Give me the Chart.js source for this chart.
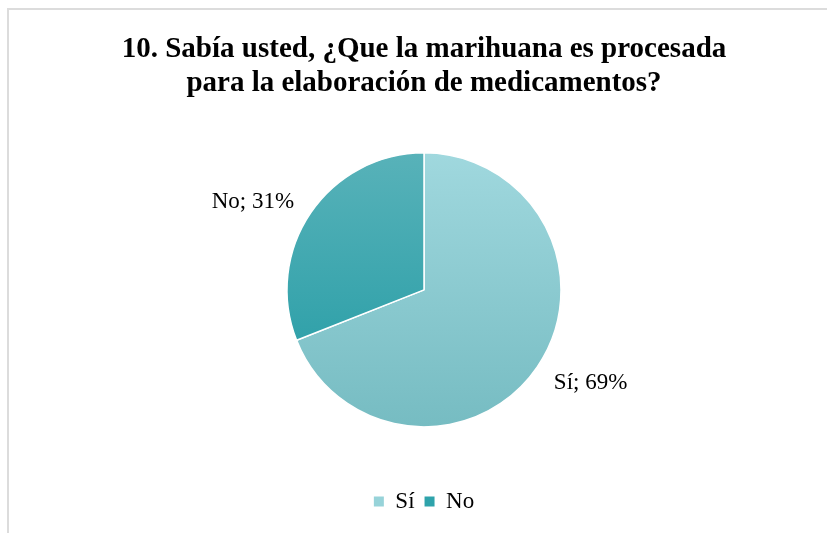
<!DOCTYPE html>
<html lang="es">
<head>
<meta charset="utf-8">
<title>Marihuana y medicamentos</title>
<script src="https://cdn.jsdelivr.net/npm/chart.js@4/dist/chart.umd.min.js"></script>
<style>
    html, body { margin: 0; padding: 0; background: #fff; overflow: hidden; }
    #frame {
        position: absolute;
        left: 7px;
        top: 8px;
        width: 900px;
        height: 600px;
        border: 2px solid #dcdcdc;
    }
    #chart { position: absolute; left: 0; top: 0; }
</style>
</head>
<body>
<div id="frame"></div>
<canvas id="chart" width="827" height="533"></canvas>
<script>
// Chart data
const categories = ['Sí', 'No'];
const percentages = [69, 31];
const titleLines = ['10. Sabía usted, ¿Que la marihuana es procesada', 'para la elaboración de medicamentos?'];

// Slice colours (top / bottom of gradient) and flat legend colours
const gradTop = ['#a0d8de', '#58b2b9'];
const gradBottom = ['#76bcc2', '#1f9aa3'];
const legendColors = ['#97d3d9', '#2fa3ab'];

const FONT = "'Liberation Serif', 'Times New Roman', serif";
const PIE_RADIUS = 137;

// Vertical gradient across the whole pie
function sliceFill(context) {
    const chart = context.chart;
    const area = chart.chartArea;
    const i = context.dataIndex;
    if (!area) return gradTop[i];
    const cy = (area.top + area.bottom) / 2;
    const g = chart.ctx.createLinearGradient(0, cy - PIE_RADIUS, 0, cy + PIE_RADIUS);
    g.addColorStop(0, gradTop[i]);
    g.addColorStop(1, gradBottom[i]);
    return g;
}

// "Category; NN%" labels just outside each slice
const outsideLabels = {
    id: 'outsideLabels',
    afterDatasetsDraw(chart) {
        const ctx = chart.ctx;
        const meta = chart.getDatasetMeta(0);
        ctx.save();
        ctx.font = '23px ' + FONT;
        ctx.fillStyle = '#000';
        ctx.textBaseline = 'middle';
        meta.data.forEach((arc, i) => {
            const p = arc.getProps(['x', 'y', 'startAngle', 'endAngle', 'outerRadius'], true);
            const mid = (p.startAngle + p.endAngle) / 2;
            const r = p.outerRadius + 20;
            const x = p.x + Math.cos(mid) * r;
            const y = p.y + Math.sin(mid) * r + 2.5 + Math.sin(mid) * 4.5;
            ctx.textAlign = Math.cos(mid) >= 0 ? 'left' : 'right';
            ctx.fillText(categories[i] + '; ' + percentages[i] + '%', x, y);
        });
        ctx.restore();
    }
};

function initPieChart() {
    const ctx = document.getElementById('chart').getContext('2d');
    new Chart(ctx, {
        type: 'pie',
        data: {
            labels: categories,
            datasets: [{
                data: percentages,
                backgroundColor: sliceFill,
                borderColor: '#ffffff',
                borderWidth: 1.5,
                radius: PIE_RADIUS
            }]
        },
        options: {
            responsive: false,
            animation: false,
            layout: {
                padding: { left: 21, right: 0, top: 0, bottom: 10 }
            },
            plugins: {
                title: {
                    display: true,
                    text: titleLines,
                    color: '#000',
                    font: { family: FONT, size: 29, weight: 'bold', lineHeight: 1.15 },
                    padding: { top: 33, bottom: 0 }
                },
                legend: {
                    position: 'bottom',
                    labels: {
                        boxWidth: 10,
                        boxHeight: 10,
                        padding: 10,
                        color: '#000',
                        font: { family: FONT, size: 23 },
                        generateLabels(chart) {
                            const items = Chart.overrides.doughnut.plugins.legend.labels.generateLabels(chart);
                            items.forEach((item, i) => {
                                item.fillStyle = legendColors[i];
                                item.strokeStyle = legendColors[i];
                                item.lineWidth = 0;
                            });
                            return items;
                        }
                    }
                },
                tooltip: { enabled: false }
            }
        },
        plugins: [outsideLabels]
    });
}

document.addEventListener('DOMContentLoaded', function() {
    initPieChart();
});
</script>
</body>
</html>
